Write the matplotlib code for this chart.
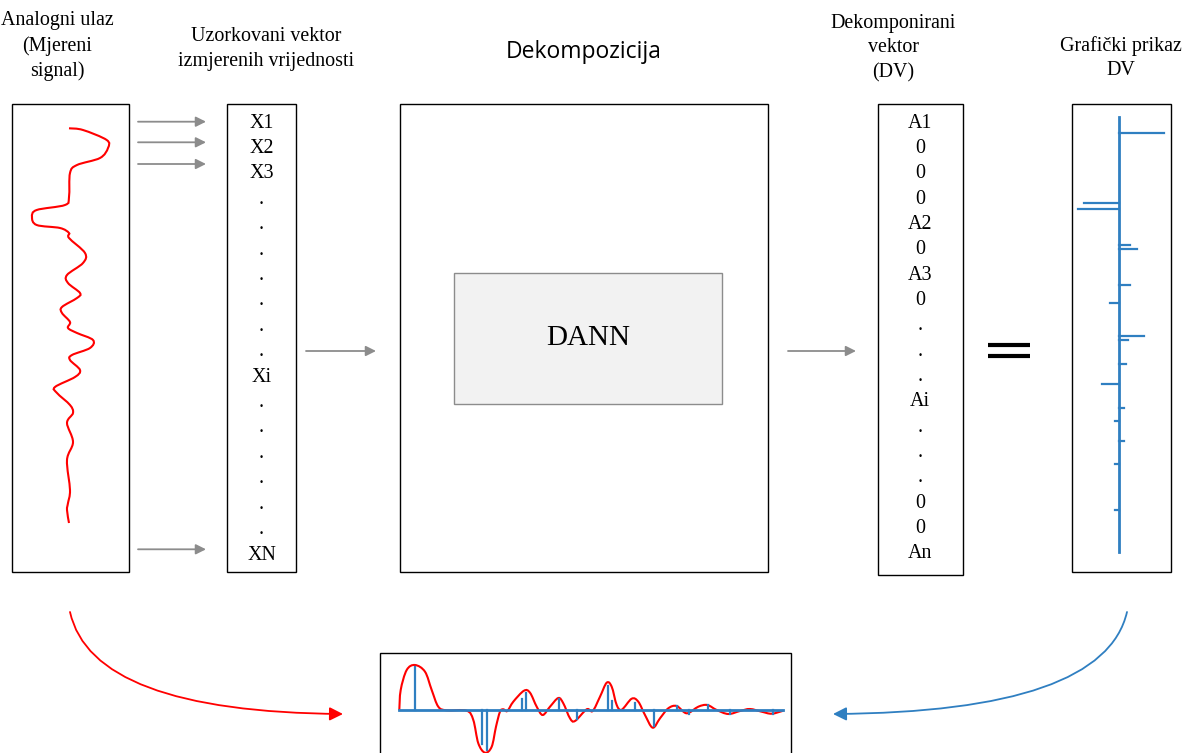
import matplotlib.pyplot as plt
import numpy as np
from matplotlib.path import Path
from matplotlib.patches import Rectangle, FancyArrowPatch, PathPatch

# --- data ---------------------------------------------------------------
# decomposed components: position along the signal (px on the baseline) and amplitude
comp_pos = [15.7, 82.7, 88.0, 122.7, 126.4, 160.0, 177.4, 208.4, 212.4,
            235.7, 254.4, 277.4, 290.0, 309.0, 330.7, 374.0]
comp_amp = [1.0, -0.78, -0.91, 0.25, 0.39, 0.25, -0.20, 0.56, 0.21,
            0.16, -0.37, 0.10, -0.08, 0.12, -0.085, -0.085]

# measured analog signal (drawn vertically): x, y points
sig_x = [69, 83, 106.7, 108, 100, 77, 70, 69, 65, 36.7, 32, 36.7, 60, 69, 69, 85, 83, 67,
         68, 80, 77, 62, 62, 70, 68, 77, 93, 90, 72, 70, 80, 75, 55, 57, 70, 73, 67, 73,
         67, 70, 68, 67, 69]
sig_y = [128.3, 130, 140, 148, 158, 165, 173, 197, 205, 210, 217, 225, 228, 233, 238, 253,
         263, 275, 283, 293, 298, 307, 313, 322, 328, 333, 340, 348, 355, 360, 370, 377,
         387, 393, 405, 413, 423, 442, 460, 490, 503, 510, 523]

# reconstructed signal in the bottom panel (t along baseline, amplitude in px)
rec_t = [0, 1.4, 7.4, 15.7, 25.7, 32.4, 39.0, 47.4, 67.4, 74.0, 79.0, 85.7, 92.4, 96.7,
         100.7, 104.0, 108.0, 114.0, 124.7, 130.7, 137.4, 143.4, 150.7, 159.0, 164.0,
         170.7, 175.7, 187.4, 193.4, 200.7, 207.4, 212.4, 217.4, 222.4, 232.4, 239.0,
         245.7, 253.4, 260.7, 269.0, 277.4, 287.4, 299.0, 308.0, 317.4, 329.0, 340.7,
         350.7, 362.4, 372.4, 384.0]
rec_v = [0, 20.3, 40.3, 45.3, 38.6, 20.3, 3.6, 0, -0.4, -9.7, -33, -42.4, -36.4, -16.4,
         -1.4, 1.0, -0.7, 8.6, 19.6, 17.6, 3.6, -4.7, 3.6, 12.3, 7.0, -8.0, -10.7, 1.0,
         -0.7, 13.6, 27.6, 23.6, 5.3, 0.6, 11.6, 8.6, -4.7, -17.4, -8.0, 2.0, 4.3, -3.0,
         3.6, 5.3, 0.3, -3.7, -0.7, 1.3, -1.4, -3.4, -0.4]

vec_labels = ["X1", "X2", "X3", ".", ".", ".", ".", ".", ".", ".", "Xi",
              ".", ".", ".", ".", ".", ".", "XN"]
dv_labels = ["A1", "0", "0", "0", "A2", "0", "A3", "0", ".", ".", ".", "Ai",
             ".", ".", ".", "0", "0", "An"]

SERIF = "Liberation Serif"
RED = "#ff0000"
BLUE = "#2f7fc1"
GRAY = "#8c8c8c"


def smooth_path(xs, ys):
    # Catmull-Rom through the points, as cubic bezier segments
    pts = np.column_stack([xs, ys]).astype(float)
    verts = [pts[0]]
    codes = [Path.MOVETO]
    for i in range(len(pts) - 1):
        p0 = pts[max(i - 1, 0)]
        p1 = pts[i]
        p2 = pts[i + 1]
        p3 = pts[min(i + 2, len(pts) - 1)]
        verts += [p1 + (p2 - p0) / 6, p2 - (p3 - p1) / 6, p2]
        codes += [Path.CURVE4] * 3
    return Path(verts, codes)


def box(x0, y0, x1, y1, **kw):
    kw.setdefault("facecolor", "white")
    kw.setdefault("edgecolor", "black")
    kw.setdefault("linewidth", 1.0)
    ax.add_patch(Rectangle((x0, y0), x1 - x0, y1 - y0, **kw))


def arrow(x0, x1, y):
    ax.annotate("", xy=(x1, y), xytext=(x0, y),
                arrowprops=dict(arrowstyle="-|>", color=GRAY, lw=1.3,
                                mutation_scale=15, shrinkA=0, shrinkB=0))


fig = plt.figure(figsize=(11.86, 7.53), dpi=100)
ax = fig.add_axes([0, 0, 1, 1])
ax.set_xlim(0, 1186)
ax.set_ylim(753, 0)
ax.axis("off")

# --- headers ---
hdr = dict(fontsize=14.4, family=SERIF, ha="center", va="center", linespacing=1.4)
ax.text(57, 46, "Analogni ulaz\n(Mjereni\nsignal)", **hdr)
ax.text(266, 49, "Uzorkovani vektor\nizmjerenih vrijednosti", **hdr)
ax.text(584, 52, "Dekompozicija", fontsize=16.5, family="Open Sans", ha="center", va="center")
ax.text(893, 48, "Dekomponirani\nvektor\n(DV)", **hdr)
ax.text(1121, 58, "Grafički prikaz\nDV", **hdr)

# --- boxes ---
box(12, 104, 129, 572)
box(227, 104, 296, 572)
box(400, 104, 768, 572)
box(454, 273, 722, 404, facecolor="#f2f2f2", edgecolor="#8c8c8c")
box(878, 104, 963, 575)
box(1072, 104, 1171, 572)
box(380, 653, 791, 800)

ax.text(588, 338, "DANN", fontsize=21, family=SERIF, ha="center", va="center")

# --- analog signal ---
ax.add_patch(PathPatch(smooth_path(sig_x, sig_y), facecolor="none", edgecolor=RED, lw=1.5))

# --- sample arrows ---
for yy in [121.7, 142.3, 164.0, 549.3]:
    arrow(138, 206, yy)
arrow(306, 376, 351)
arrow(788, 856, 351)

# --- vector entries ---
step = (555 - 123) / (len(vec_labels) - 1)
for i, lab in enumerate(vec_labels):
    ax.text(261.5, 123 + i * step, lab, fontsize=14.4, family=SERIF, ha="center", va="center")
step = (554 - 123) / (len(dv_labels) - 1)
for i, lab in enumerate(dv_labels):
    ax.text(920, 123 + i * step, lab, fontsize=14.4, family=SERIF, ha="center", va="center")

# --- equals sign ---
ax.plot([988, 1030], [345, 345], color="black", lw=3, solid_capstyle="butt")
ax.plot([988, 1030], [356, 356], color="black", lw=3, solid_capstyle="butt")

# --- graphic DV (vertical stem plot) ---
dv_x0 = 1119
dv_y0 = 132.7 - comp_pos[0] / 0.95
ax.plot([dv_x0, dv_x0], [116.7, 552], color=BLUE, lw=2)
for p, a in zip(comp_pos, comp_amp):
    yy = dv_y0 + p / 0.95
    ax.plot([dv_x0, dv_x0 + a * 45], [yy, yy], color=BLUE, lw=1.6)

# --- bottom reconstruction ---
bx0, by0, scale = 399.3, 710.3, 43.6
ax.plot([bx0, 783.3], [by0, by0], color=BLUE, lw=2)
for p, a in zip(comp_pos, comp_amp):
    ax.plot([bx0 + p, bx0 + p], [by0, by0 - a * scale], color=BLUE, lw=1.6)
rx = [bx0 + t for t in rec_t]
ry = [by0 - v for v in rec_v]
ax.add_patch(PathPatch(smooth_path(rx, ry), facecolor="none", edgecolor=RED, lw=1.5))

# --- curved arrows to the bottom panel ---
p_red = Path([(70, 612), (92, 712), (343, 714)], [Path.MOVETO, Path.CURVE3, Path.CURVE3])
ax.add_patch(FancyArrowPatch(path=p_red, arrowstyle="-|>", color=RED, lw=1.3,
                             mutation_scale=20))
p_blue = Path([(1127, 612), (1104, 712), (833, 714)], [Path.MOVETO, Path.CURVE3, Path.CURVE3])
ax.add_patch(FancyArrowPatch(path=p_blue, arrowstyle="-|>", color=BLUE, lw=1.3,
                             mutation_scale=20))

fig.savefig("out.png", dpi=100)
